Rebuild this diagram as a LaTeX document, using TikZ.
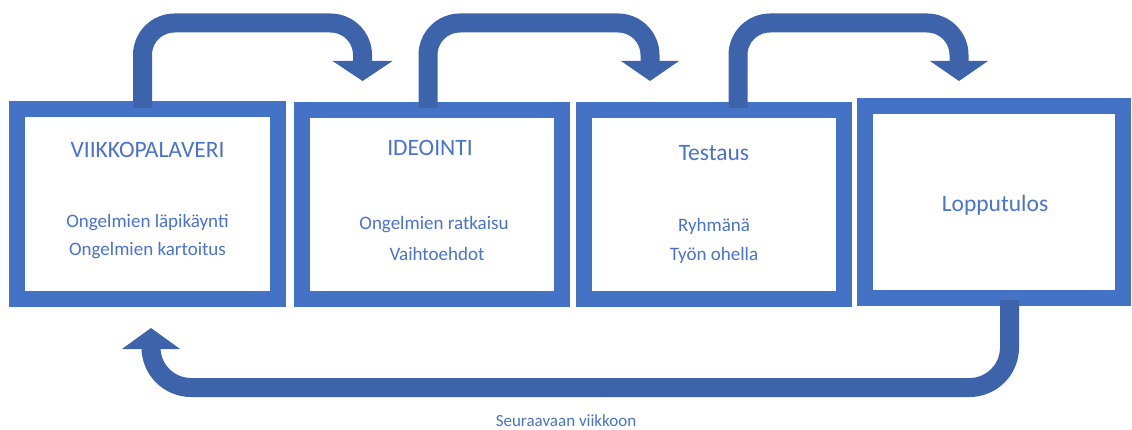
\documentclass[tikz,border=0pt]{standalone}
\usepackage{fontspec}
\setmainfont{Carlito}
\definecolor{boxblue}{HTML}{4472C4}
\definecolor{arrblue}{HTML}{3D64AB}
\definecolor{txtblue}{HTML}{4A72D0}
\begin{document}
\begin{tikzpicture}[x=1pt,y=-1pt,
  stagebox/.style={draw=boxblue,line width=16pt,fill=white,inner sep=0pt},
  ttl/.style={text=txtblue,font=\fontsize{23.5}{27}\selectfont,inner sep=0pt},
  sub/.style={text=txtblue,font=\fontsize{19}{23}\selectfont,inner sep=0pt},
  lbl/.style={text=txtblue,font=\fontsize{17}{20}\selectfont,inner sep=0pt},
  arrline/.style={draw=arrblue,line width=19pt,rounded corners=32pt},
  arrhead/.style={fill=arrblue}]
\useasboundingbox (0,0) rectangle (1132,430);
\fill[white] (0,0) rectangle (1132,430);
% boxes
\node[stagebox,minimum width=261pt,minimum height=190pt] (b1) at (147.5,204) {};
\node[stagebox,minimum width=260pt,minimum height=189pt] (b2) at (432,204.5) {};
\node[stagebox,minimum width=260pt,minimum height=189pt] (b3) at (714,204.5) {};
\node[stagebox,minimum width=258pt,minimum height=192pt] (b4) at (994,202) {};
% texts
\node[ttl] (t1) at (147.5,150) {VIIKKOPALAVERI};
\node[sub] (s1a) at (147.5,223) {Ongelmien läpikäynti};
\node[sub] (s1b) at (147.5,251) {Ongelmien kartoitus};
\node[ttl] (t2) at (430,148) {IDEOINTI};
\node[sub] (s2a) at (434,225) {Ongelmien ratkaisu};
\node[sub] (s2b) at (437,254) {Vaihtoehdot};
\node[ttl] (t3) at (714,153) {Testaus};
\node[sub] (s3a) at (714,226) {Ryhmänä};
\node[sub] (s3b) at (714,255) {Työn ohella};
\node[ttl] (t4) at (995,205) {Lopputulos};
\node[lbl] (l5) at (566,421) {Seuraavaan viikkoon};
% arrow coordinates
\coordinate (a1s) at (142.5,108);
\coordinate (a1e) at (362.5,62);
\coordinate (a2s) at (428,108);
\coordinate (a2e) at (650,62);
\coordinate (a3s) at (738,108);
\coordinate (a3e) at (959,62);
\coordinate (a4s) at (1009.5,300);
\coordinate (a4e) at (151,348);
% top arrows
\draw[arrline] (a1s) -- (a1s |- 0,23) -- (a1e |- 0,23) -- (a1e);
\fill[arrhead] ([xshift=-30pt,yshift=1pt]a1e) -- ([xshift=30pt,yshift=1pt]a1e) -- ([yshift=-19pt]a1e) -- cycle;
\draw[arrline] (a2s) -- (a2s |- 0,23) -- (a2e |- 0,23) -- (a2e);
\fill[arrhead] ([xshift=-29pt,yshift=1pt]a2e) -- ([xshift=29pt,yshift=1pt]a2e) -- ([yshift=-19pt]a2e) -- cycle;
\draw[arrline] (a3s) -- (a3s |- 0,23) -- (a3e |- 0,23) -- (a3e);
\fill[arrhead] ([xshift=-29pt,yshift=1pt]a3e) -- ([xshift=29pt,yshift=1pt]a3e) -- ([yshift=-19pt]a3e) -- cycle;
% return arrow
\draw[arrline,rounded corners=40pt] (a4s) -- (a4s |- 0,387.5) -- (a4e |- 0,387.5) -- (a4e);
\fill[arrhead] ([xshift=-29pt,yshift=-1pt]a4e) -- ([xshift=29pt,yshift=-1pt]a4e) -- ([yshift=20pt]a4e) -- cycle;
\end{tikzpicture}
\end{document}
